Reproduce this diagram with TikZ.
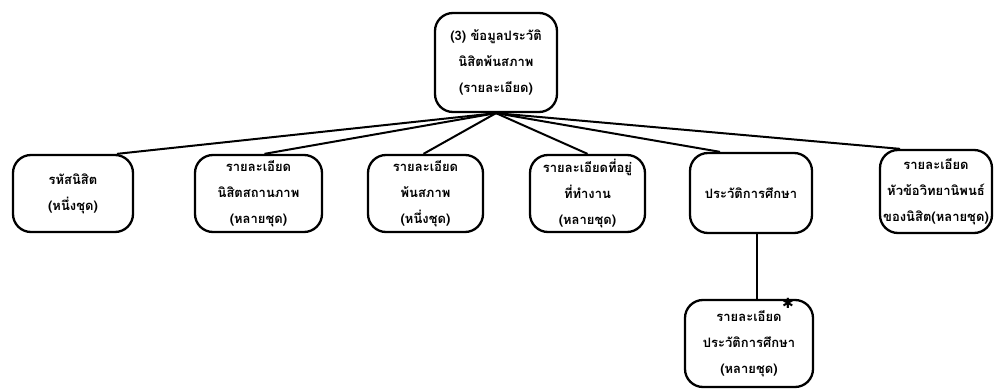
\documentclass[tikz,border=0pt]{standalone}
\usepackage{fontspec}
\newfontfamily\thaifont[Script=Thai]{Loma}
\newfontfamily\symfont{DejaVu Sans}
\begin{document}
\begin{tikzpicture}[x=1pt,y=-1pt,
  box/.style={draw, line width=2.3pt, rounded corners=18pt, align=center,
    font=\thaifont\bfseries\fontsize{13}{26}\selectfont, inner sep=0pt},
  link/.style={line width=2pt}]
\useasboundingbox (0,0) rectangle (994,391);
\node[box, minimum width=122pt, minimum height=99pt] (top) at (496,62.5)
  {(3) ข้อมูลประวัติ\\นิสิตพ้นสภาพ\\(รายละเอียด)};
\node[box, minimum width=120pt, minimum height=77pt] (b1) at (73,193.5)
  {รหัสนิสิต\\(หนึ่งชุด)};
\node[box, minimum width=127pt, minimum height=77pt] (b2) at (258.5,193.5)
  {รายละเอียด\\นิสิตสถานภาพ\\(หลายชุด)};
\node[box, minimum width=115pt, minimum height=77pt] (b3) at (425.5,193.5)
  {รายละเอียด\\พ้นสภาพ\\(หนึ่งชุด)};
\node[box, minimum width=115pt, minimum height=77pt] (b4) at (587.5,193.5)
  {รายละเอียดที่อยู่\\ที่ทำงาน\\(หลายชุด)};
\node[box, minimum width=122pt, minimum height=80pt] (b6) at (751,193)
  {ประวัติการศึกษา};
\node[box, minimum width=112pt, minimum height=83pt] (b7) at (936,191.5)
  {รายละเอียด\\หัวข้อวิทยานิพนธ์\\ของนิสิต(หลายชุด)};
\node[box, minimum width=128pt, minimum height=87pt] (bot) at (749,343.5)
  {รายละเอียด\\ประวัติการศึกษา\\(หลายชุด)};
\node[font=\symfont\bfseries\fontsize{14}{14}\selectfont, inner sep=0pt] (star) at (788,303) {✱};
\draw[link] (top.south) -- ([xshift=44pt]b1.north);
\draw[link] (top.south) -- ([xshift=6pt]b2.north);
\draw[link] (top.south) -- ([xshift=-2pt]b3.north);
\draw[link] (top.south) -- (b4.north);
\draw[link] (top.south) -- ([xshift=-31pt]b6.north);
\draw[link] (top.south) -- ([xshift=-36pt]b7.north);
\coordinate (c6) at ([xshift=6pt]b6.south);
\draw[link] (c6) -- (c6 |- bot.north);
\end{tikzpicture}
\end{document}
